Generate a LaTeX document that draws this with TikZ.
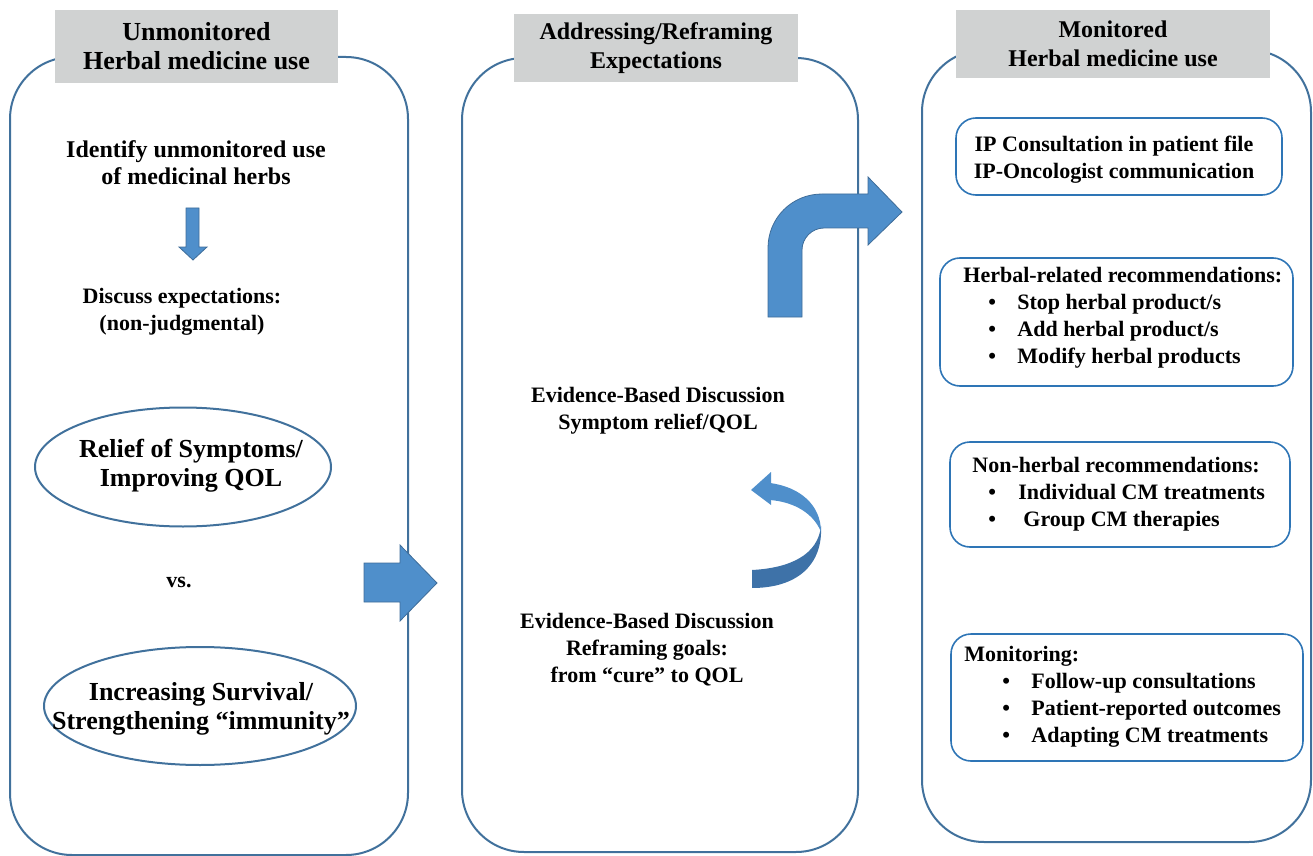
\documentclass[tikz,border=0pt]{standalone}
\usepackage{fontspec}
\setmainfont{Liberation Serif}
\definecolor{lineblue}{RGB}{65,113,156}
\definecolor{boxblue}{RGB}{46,117,182}
\definecolor{arrowblue}{RGB}{79,143,203}
\definecolor{arrowedge}{RGB}{62,108,152}
\definecolor{darkblue}{RGB}{62,114,168}
\definecolor{headgray}{RGB}{208,210,210}
\tikzstyle{column}=[draw=lineblue,line width=1pt,rounded corners=31pt]
\tikzstyle{smallbox}=[draw=boxblue,line width=0.8pt,rounded corners=10pt]
\tikzstyle{header}=[fill=headgray,align=center,inner sep=0pt,font=\bfseries\fontsize{12}{14.5}\selectfont]
\tikzstyle{bodytext}=[align=center,inner sep=0pt,font=\bfseries\fontsize{11}{13.5}\selectfont]
\tikzstyle{listtext}=[bodytext,align=left,anchor=west]
\tikzstyle{ovaltext}=[align=center,inner sep=0pt,font=\bfseries\fontsize{13}{14.5}\selectfont]
\tikzstyle{ovalline}=[draw=lineblue,line width=1pt]
\tikzstyle{blockarrow}=[fill=arrowblue,draw=arrowedge,line width=0.4pt]
\newcommand{\bul}[3]{\hspace*{#1}\makebox[#2][l]{\textbullet}#3}

\begin{document}
\begin{tikzpicture}[x=0.5pt,y=-0.5pt]
    \useasboundingbox (0,0) rectangle (1313,856);

    % three columns
    \foreach \xa/\ya/\xb/\yb in {10/57/408/855, 462/58/858/852, 922/50/1311/842}
        \draw[column] (\xa,\ya) rectangle (\xb,\yb);

    \node[header,minimum width=141.5pt,minimum height=36.5pt,font=\bfseries\fontsize{13}{14.5}\selectfont] (hdleft) at (196.5,46.5) {Unmonitored\\Herbal medicine use};
    \node[header,minimum width=142pt,minimum height=34pt] (hdmid) at (656,48) {Addressing/Reframing\\Expectations};
    \node[header,minimum width=157pt,minimum height=34pt] (hdright) at (1113,44) {Monitored\\Herbal medicine use};

    % left column
    \node[bodytext,font=\bfseries\fontsize{12}{13.5}\selectfont] (identify) at (196,163) {Identify unmonitored use\\of medicinal herbs};
    \draw[blockarrow] (186,208) -- (199,208) -- (199,247) -- (207,247) -- (193,260) -- (179,247) -- (186,247) -- cycle;
    \node[bodytext] (discuss) at (182,312) {Discuss expectations:\\(non-judgmental)};
    \draw[ovalline] (183,467) ellipse [x radius=74pt,y radius=29.75pt];
    \node[ovaltext] (relief) at (191,466) {Relief of Symptoms/\\Improving QOL};
    \node[bodytext] (vs) at (179,582) {vs.};
    \draw[ovalline] (200,706) ellipse [x radius=78pt,y radius=29.5pt];
    \node[ovaltext] (survival) at (201,709) {Increasing Survival/\\Strengthening “immunity”};

    \draw[blockarrow] (364,563) -- (400,563) -- (400,545) -- (437,583) -- (400,621) -- (400,602) -- (364,602) -- cycle;

    % middle column
    \node[bodytext] (symptom) at (658,411) {Evidence-Based Discussion\\Symptom relief/QOL};
    \node[bodytext] (reframe) at (647,650) {Evidence-Based Discussion\\Reframing goals:\\from “cure” to QOL};

    \draw[blockarrow] (768,317) -- (768,248) .. controls (768,218) and (792,194) .. (822,194)
        -- (868,194) -- (868,177) -- (902,212) -- (868,245) -- (868,228) -- (824,228)
        .. controls (812,228) and (802,238) .. (802,250) -- (802,317) -- cycle;

    \fill[darkblue] (821,526) .. controls (818,555) and (790,568) .. (752,570) -- (752,588)
        .. controls (797,588) and (823,565) .. (821,526) -- cycle;
    \fill[arrowblue] (770,483) .. controls (800,487) and (821,505) .. (821,532)
        .. controls (814,514) and (795,502) .. (770,500) -- cycle;
    \fill[arrowblue] (771,472) -- (751,490) -- (771,505) -- cycle;

    % right column
    \foreach \xa/\ya/\xb/\yb in {956/118/1282/195, 940/258/1293/386, 950/442/1290/547, 951/634/1303/761}
        \draw[smallbox] (\xa,\ya) rectangle (\xb,\yb);

    \node[bodytext] (ipcons) at (1114,160) {IP Consultation in patient file\\IP-Oncologist communication};
    \node[listtext] (herbal) at (963,317.5) {Herbal-related recommendations:\\
        \bul{12.5pt}{14.5pt}{Stop herbal product/s}\\
        \bul{12.5pt}{14.5pt}{Add herbal product/s}\\
        \bul{12.5pt}{14.5pt}{Modify herbal products}};
    \node[listtext] (nonherbal) at (972,494.5) {Non-herbal recommendations:\\
        \bul{8pt}{15pt}{Individual CM treatments}\\
        \bul{8pt}{17.5pt}{Group CM therapies}};
    \node[listtext] (monitor) at (964,697) {Monitoring:\\
        \bul{19pt}{14.5pt}{Follow-up consultations}\\
        \bul{19pt}{14.5pt}{Patient-reported outcomes}\\
        \bul{19pt}{14.5pt}{Adapting CM treatments}};

\end{tikzpicture}
\end{document}
